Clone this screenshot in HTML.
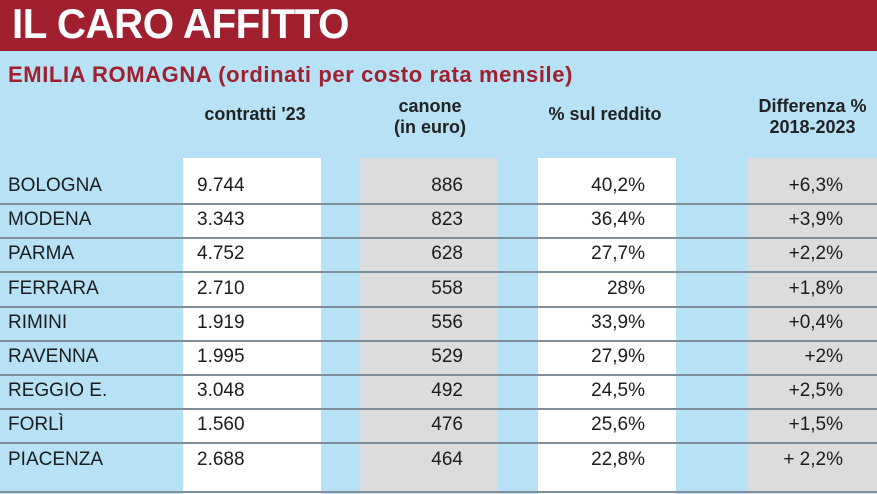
<!DOCTYPE html>
<html><head><meta charset="utf-8"><style>
body{margin:0;width:877px;height:494px;overflow:hidden;background:#b7e1f5;font-family:"Liberation Sans",sans-serif;position:relative}
.t{position:absolute;left:0;top:0;width:877px;height:51px;background:#a0202f;}
.t span{position:absolute;left:12px;top:0px;color:#fff;font-weight:bold;font-size:42px;letter-spacing:-0.5px;transform:scaleX(0.96);transform-origin:left}
.sub{position:absolute;left:8px;top:62px;color:#a0202f;font-weight:bold;font-size:22px;letter-spacing:0.6px}
.h{position:absolute;color:#222;font-weight:bold;font-size:18px;text-align:center;line-height:21px}
.col{position:absolute;top:158px;height:336px}
.w{background:#fff}.g{background:#dcdcdc}
.line{position:absolute;left:0;width:877px;height:2px;background:#7f8e98}
.r{position:absolute;font-size:19px;color:#1c1c1c;line-height:20px}
</style></head><body>
<div class="t"><span>IL CARO AFFITTO</span></div>
<div class="sub">EMILIA ROMAGNA (ordinati per costo rata mensile)</div>
<div class="h" style="left:180px;width:150px;top:104px">contratti '23</div>
<div class="h" style="left:370px;width:120px;top:96px">canone<br>(in euro)</div>
<div class="h" style="left:530px;width:150px;top:104px">% sul reddito</div>
<div class="h" style="left:740px;width:145px;top:96px">Differenza %<br>2018-2023</div>
<div class="col w" style="left:183px;width:138px"></div>
<div class="col g" style="left:360px;width:138px"></div>
<div class="col w" style="left:538px;width:138px"></div>
<div class="col g" style="left:748px;width:129px"></div>
<div id="rows"></div>
<script>
var d=[["BOLOGNA","9.744","886","40,2%","+6,3%"],["MODENA","3.343","823","36,4%","+3,9%"],["PARMA","4.752","628","27,7%","+2,2%"],["FERRARA","2.710","558","28%","+1,8%"],["RIMINI","1.919","556","33,9%","+0,4%"],["RAVENNA","1.995","529","27,9%","+2%"],["REGGIO E.","3.048","492","24,5%","+2,5%"],["FORLÌ","1.560","476","25,6%","+1,5%"],["PIACENZA","2.688","464","22,8%","+ 2,2%"]];
var h="";
d.forEach(function(r,i){var y=176+i*34.2;
h+='<div class="r" style="left:8px;top:'+y+'px">'+r[0]+'</div>';
h+='<div class="r" style="left:197px;top:'+y+'px">'+r[1]+'</div>';
h+='<div class="r" style="right:'+(877-463)+'px;top:'+y+'px">'+r[2]+'</div>';
h+='<div class="r" style="right:'+(877-645)+'px;top:'+y+'px">'+r[3]+'</div>';
h+='<div class="r" style="right:'+(877-843)+'px;top:'+y+'px">'+r[4]+'</div>';
if(i<8)h+='<div class="line" style="top:'+(y+27)+'px"></div>';
});
h+='<div class="line" style="top:491px"></div>';
document.getElementById("rows").innerHTML=h;
</script>
</body></html>
